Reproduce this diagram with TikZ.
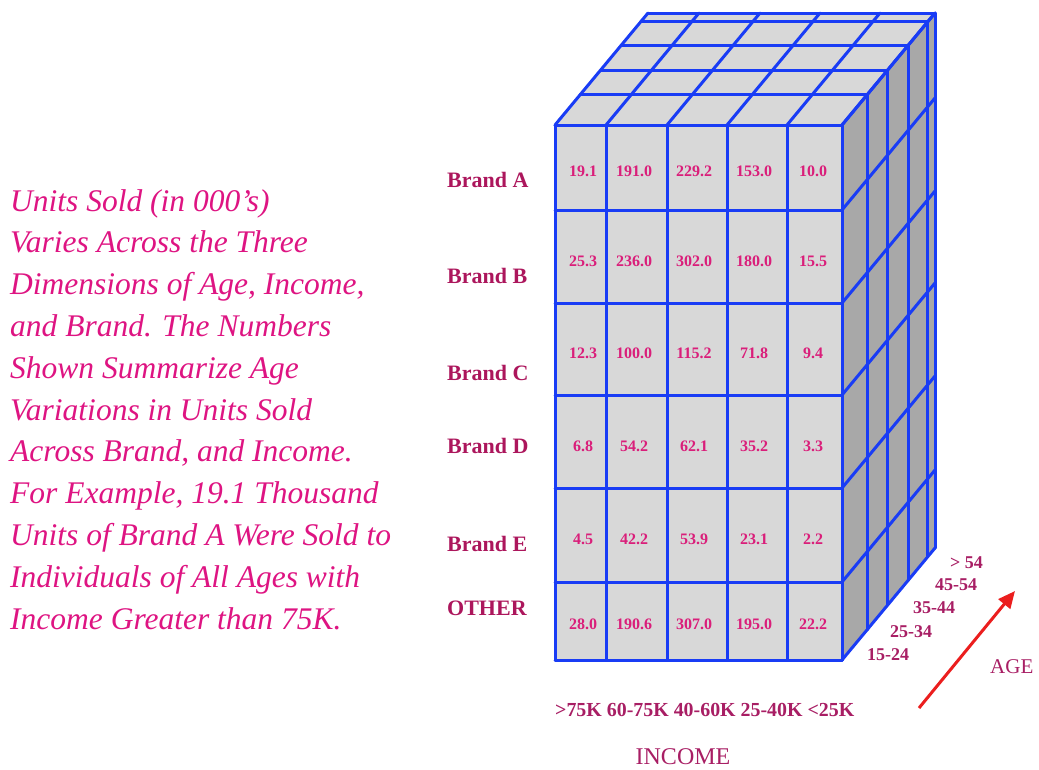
\documentclass[tikz,border=0pt]{standalone}
\usepackage{fontspec}
\setmainfont{Liberation Serif}
\usetikzlibrary{arrows.meta}
\definecolor{cubeblue}{RGB}{25,60,245}
\definecolor{frontgray}{RGB}{216,216,216}
\definecolor{sidegray}{RGB}{168,168,168}
\definecolor{paramag}{RGB}{222,20,130}
\definecolor{labelmag}{RGB}{172,22,92}
\definecolor{cellmag}{RGB}{218,30,122}
\definecolor{axismag}{RGB}{168,30,100}
\definecolor{arrowred}{RGB}{235,30,30}
\tikzset{
  gridline/.style={draw=cubeblue,line width=3pt,line cap=round},
  paraline/.style={anchor=base west,inner sep=0pt,text=paramag,font=\fontsize{31.5}{38}\selectfont\itshape},
  brandlabel/.style={anchor=base west,inner sep=0pt,text=labelmag,font=\fontsize{22}{26}\selectfont\bfseries},
  cellnum/.style={inner sep=0pt,text=cellmag,font=\fontsize{16}{19}\selectfont\bfseries},
  agelabel/.style={anchor=base west,inner sep=0pt,text=axismag,font=\fontsize{18}{21}\selectfont\bfseries},
  axistitle/.style={anchor=base,inner sep=0pt,text=axismag},
}
\begin{document}
\begin{tikzpicture}[x=1pt,y=-1pt]
\useasboundingbox (0,0) rectangle (1039,769);
% ---- cube faces
\fill[frontgray] (555,125) -- (842,125) -- (935,13) -- (648,13) -- cycle;
\fill[sidegray] (842,125) -- (935,13) -- (935,548) -- (842,660) -- cycle;
\fill[frontgray] (555,125) rectangle (842,660);
% ---- depth layers (top rows and side columns)
\foreach \t in {0,0.27,0.49,0.71,0.92,1} {
  \draw[gridline] ({555+93*\t},{125-112*\t}) -- ({842+93*\t},{125-112*\t});
  \draw[gridline] ({842+93*\t},{125-112*\t}) -- ({842+93*\t},{660-112*\t});
}
% ---- income columns
\foreach \x in {555,606,667,727,787,842} {
  \draw[gridline] (\x,125) -- (\x,660);
  \draw[gridline] (\x,125) -- ++(93,-112);
}
% ---- brand rows
\foreach \y in {125,210,303,395,488,582,660} {
  \draw[gridline] (555,\y) -- (842,\y);
  \draw[gridline] (842,\y) -- ++(93,-112);
}
% ---- cell values
\foreach \r/\y/\vals in {1/171/{19.1,191.0,229.2,153.0,10.0},
                          2/261/{25.3,236.0,302.0,180.0,15.5},
                          3/353/{12.3,100.0,115.2,71.8,9.4},
                          4/446/{6.8,54.2,62.1,35.2,3.3},
                          5/539/{4.5,42.2,53.9,23.1,2.2},
                          6/624/{28.0,190.6,307.0,195.0,22.2}} {
  \foreach \v [count=\c] in \vals {
    \pgfmathsetmacro{\cx}{{583,634,694,754,813}[\c-1]}
    \node[cellnum] (c\r\c) at (\cx,\y) {\v};
  }
}
% ---- brand labels
\node[brandlabel] (bA) at (447,187) {Brand A};
\node[brandlabel] (bB) at (447,283) {Brand B};
\node[brandlabel] (bC) at (447,380) {Brand C};
\node[brandlabel] (bD) at (447,453) {Brand D};
\node[brandlabel] (bE) at (447,551) {Brand E};
\node[brandlabel] (bO) at (447,615) {OTHER};
% ---- income axis
\node[anchor=base west,inner sep=0pt,text=axismag,font=\fontsize{19.9}{22}\selectfont\bfseries] (inc) at (555,716) {>75K 60-75K 40-60K 25-40K <25K};
\node[axistitle,font=\fontsize{24}{28}\selectfont] (incT) at (683,764) {INCOME};
% ---- age axis
\node[agelabel] (a5) at (950,568) {> 54};
\node[agelabel] (a4) at (935,590) {45-54};
\node[agelabel] (a3) at (913,613) {35-44};
\node[agelabel] (a2) at (890,637) {25-34};
\node[agelabel] (a1) at (867,660) {15-24};
\node[anchor=base west,inner sep=0pt,text=axismag,font=\fontsize{21}{24}\selectfont] (ageT) at (990,673) {AGE};
\coordinate (arS) at (919,708);
\coordinate (arE) at (1015,591);
\draw[arrowred,line width=3pt,-{Triangle[length=17pt,width=15pt]}] (arS) -- (arE);
% ---- explanatory text
\foreach \txt [count=\i] in {Units Sold (in 000's),
  Varies Across the Three,
  {Dimensions of Age, Income,},
  and Brand. The Numbers,
  Shown Summarize Age,
  Variations in Units Sold,
  {Across Brand, and Income.},
  {For Example, 19.1 Thousand},
  Units of Brand A Were Sold to,
  Individuals of All Ages with,
  Income Greater than 75K.} {
  \node[paraline] (p\i) at (10,{211+41.8*(\i-1)}) {\txt};
}
\end{tikzpicture}
\end{document}
